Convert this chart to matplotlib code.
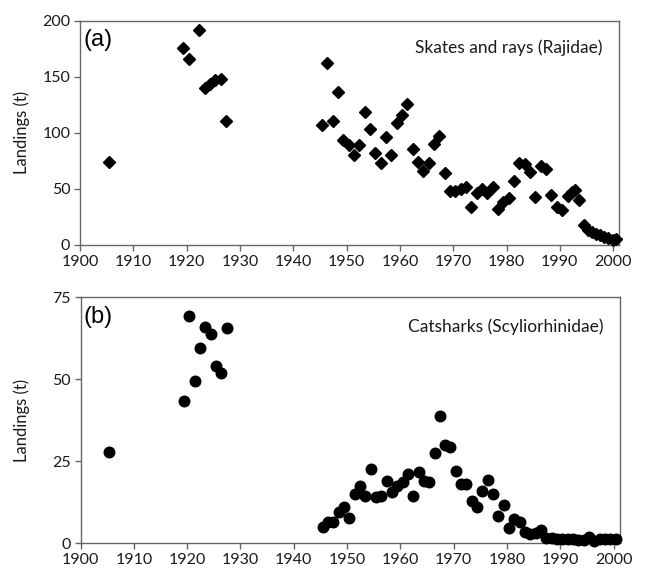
import matplotlib
matplotlib.use("Agg")
import matplotlib.pyplot as plt
import numpy as np

# ---- Panel (a): Skates and rays (Rajidae) ----
years_a = [1905, 1919, 1920, 1922, 1923, 1924, 1925, 1926, 1927,
           1945, 1946, 1947, 1948, 1949, 1950, 1951, 1952, 1953, 1954,
           1955, 1956, 1957, 1958, 1959, 1960, 1961, 1962, 1963, 1964,
           1965, 1966, 1967, 1968, 1969, 1970, 1971, 1972, 1973, 1974,
           1975, 1976, 1977, 1978, 1979, 1980, 1981, 1982, 1983, 1984,
           1985, 1986, 1987, 1988, 1989, 1990,
           1991.2, 1991.9, 1992.4, 1993.2, 1994.2, 1994.9, 1995.7, 1996.4,
           1997.1, 1997.9, 1998.7, 1999.5, 2000.2]
landings_a = [74, 176, 166, 192, 140, 144, 147, 148, 111,
              107, 162, 111, 136, 94, 89, 80, 89, 119, 103,
              82, 73, 96, 80, 109, 116, 126, 86, 74, 66,
              73, 90, 97, 64, 48, 48, 50, 52, 34, 46,
              50, 46, 52, 32, 38, 42, 57, 73, 72, 65,
              43, 70, 68, 45, 34, 31,
              44, 47, 49, 40, 18, 13, 12, 10,
              9, 7, 6, 4.5, 5]

# ---- Panel (b): Catsharks (Scyliorhinidae) ----
years_b = [1905, 1919, 1920, 1921, 1922, 1923, 1924, 1925, 1926, 1927,
           1945, 1946, 1947, 1948, 1949, 1950, 1951, 1952, 1953, 1954,
           1955, 1956, 1957, 1958, 1959, 1960, 1961, 1962, 1963, 1964,
           1965, 1966, 1967, 1968, 1969, 1970, 1971, 1972, 1973, 1974,
           1975, 1976, 1977, 1978, 1979, 1980, 1981, 1982, 1983, 1984,
           1985, 1986, 1987, 1988, 1989, 1990, 1991, 1992, 1993, 1994,
           1995, 1996, 1997, 1998, 1999, 2000]
landings_b = [27.8, 43.5, 69.4, 49.6, 59.4, 66.0, 63.7, 54.1, 51.8, 65.5,
              5.1, 6.4, 6.4, 9.6, 11.2, 7.6, 14.9, 17.6, 14.5, 22.7,
              14.2, 14.5, 19.1, 15.5, 17.6, 18.8, 21.0, 14.5, 21.8, 19.1,
              18.6, 27.4, 38.8, 30.0, 29.5, 22.1, 18.0, 18.0, 13.0, 11.2,
              16.0, 19.3, 14.9, 8.4, 11.7, 4.6, 7.3, 6.6, 3.5, 2.8,
              3.0, 4.0, 1.5, 1.5, 1.3, 1.2, 1.2, 1.2, 1.0, 1.0,
              1.8, 0.8, 1.2, 1.3, 1.3, 1.4]

x_ticks = [1900, 1910, 1920, 1930, 1940, 1950, 1960, 1970, 1980, 1990, 2000]
y_ticks_a = [0, 50, 100, 150, 200]
y_ticks_b = [0, 25, 50, 75]

panel_a_label = "(a)"
panel_b_label = "(b)"
title_a = "Skates and rays (Rajidae)"
title_b = "Catsharks (Scyliorhinidae)"
ylabel = "Landings (t)"

MID = 0.4  # points are drawn at mid-year

plt.rcParams['font.family'] = ['Lato', 'DejaVu Sans']

fig = plt.figure(figsize=(6.45, 5.72), dpi=100)
W, H = 645, 572
ax_a = fig.add_axes([80 / W, 1 - 245 / H, (619 - 80) / W, (245 - 20.7) / H])
ax_b = fig.add_axes([80.5 / W, 1 - 543.3 / H, (619.5 - 80.5) / W, (543.3 - 297.3) / H])

ax_a.plot(np.array(years_a) + MID, landings_a, linestyle='none', marker='D',
          markersize=6.4, color='black', clip_on=False, zorder=3)
ax_b.plot(np.array(years_b) + MID, landings_b, linestyle='none', marker='o',
          markersize=7.6, color='black', clip_on=False, zorder=3)

for ax, yt, lab, title in [(ax_a, y_ticks_a, panel_a_label, title_a),
                           (ax_b, y_ticks_b, panel_b_label, title_b)]:
    ax.set_xlim(1900, 2001.1)
    ax.set_ylim(yt[0], yt[-1])
    ax.set_xticks(x_ticks)
    ax.set_yticks(yt)
    ax.tick_params(axis='both', direction='out', length=4, width=1,
                   labelsize=11.5, colors='#666666', labelcolor='#1a1a1a', pad=3)
    for s in ax.spines.values():
        s.set_color('#666666')
        s.set_linewidth(1.0)
    ax.set_ylabel(ylabel, fontsize=12, color='#1a1a1a')
    ax.text(0.006, 0.965, lab, transform=ax.transAxes, ha='left', va='top',
            fontsize=17, family=['Liberation Sans', 'DejaVu Sans'])
    ax.text(0.97, 0.88, title, transform=ax.transAxes, ha='right', va='center',
            fontsize=12.5, color='#1a1a1a')

ax_a.yaxis.set_label_coords(-0.093, 0.5)
ax_b.yaxis.set_label_coords(-0.093, 0.5)

fig.savefig("out.png", dpi=100)
